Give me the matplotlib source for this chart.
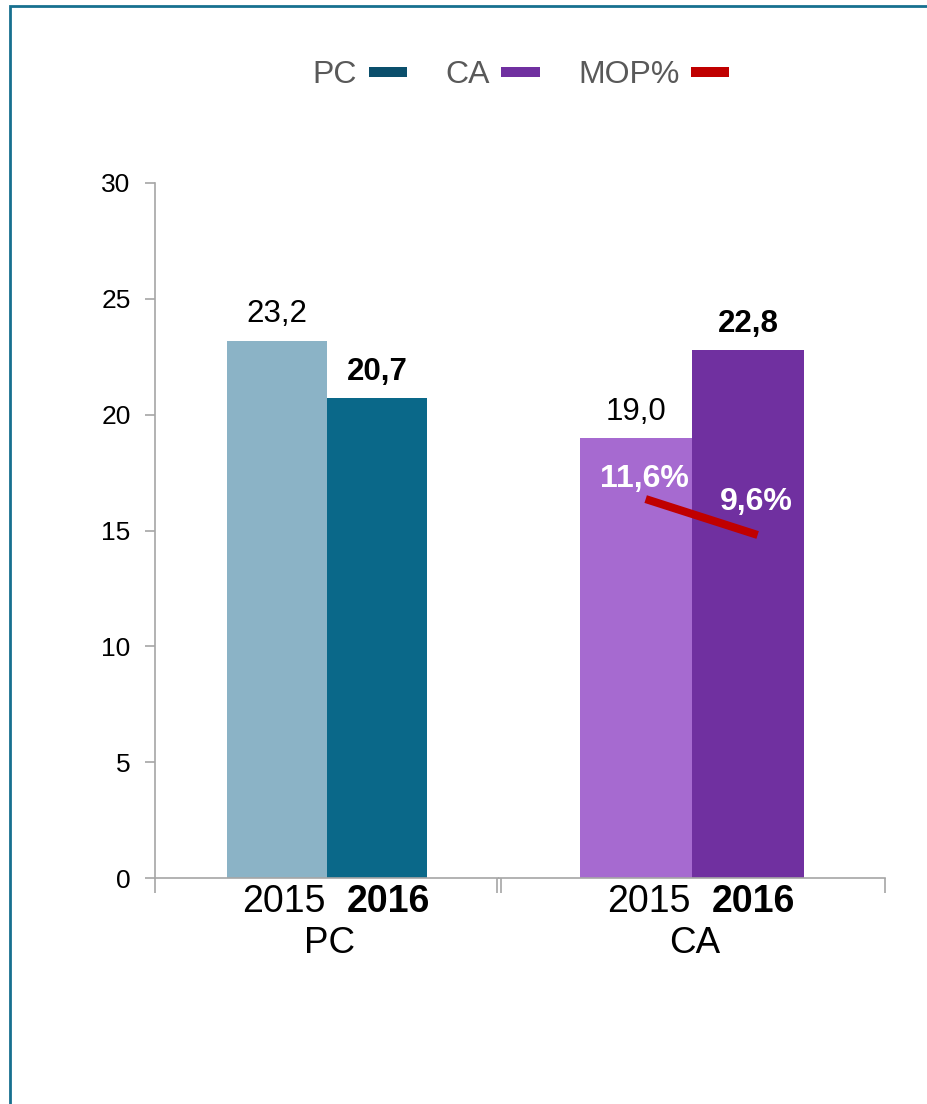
import matplotlib.pyplot as plt
from matplotlib.lines import Line2D
from matplotlib.patches import Rectangle

plt.rcParams['font.family'] = ['Liberation Sans', 'DejaVu Sans']

# 数据
groups = ['PC', 'CA']
years = ['2015', '2016']
pc_values = [23.2, 20.7]
ca_values = [19.0, 22.8]
value_labels = {'PC': ['23,2', '20,7'], 'CA': ['19,0', '22,8']}
mop_values = [11.6, 9.6]
mop_labels = ['11,6%', '9,6%']
y_ticks = [0, 5, 10, 15, 20, 25, 30]

pc_colors = ['#8bb3c6', '#0a6889']
ca_colors = ['#a66ad0', '#7030a0']
legend_colors = {'PC': '#0b4f6c', 'CA': '#7030a0', 'MOP%': '#c00000'}
axis_color = '#a6a6a6'

W, H = 928, 1104
fig = plt.figure(figsize=(W / 100, H / 100), dpi=100)

# 外框(左边和上边)
fig.add_artist(Rectangle((10.5 / W, -0.1), 1.2, 1.1 - 5.8 / H,
                         transform=fig.transFigure, fill=False,
                         edgecolor='#17708f', linewidth=2))

bottom = 1 - 878 / H
height = 695 / H
ax1 = fig.add_axes([155 / W, bottom, 344 / W, height])
ax2 = fig.add_axes([499 / W, bottom, 386 / W, height], sharey=ax1)

bar_w = 0.29
bar_x = [-bar_w / 2, bar_w / 2]

# 两个分组之间的双刻度线
pane_ticks = {'PC': [-0.5, 0.494], 'CA': [-0.495, 0.5]}

for ax, name, vals, cols in [(ax1, 'PC', pc_values, pc_colors),
                             (ax2, 'CA', ca_values, ca_colors)]:
    ax.bar(bar_x, vals, width=bar_w, color=cols, zorder=2)
    ax.set_xlim(-0.5, 0.5)
    ax.set_ylim(0, 30)
    for s in ['top', 'right']:
        ax.spines[s].set_visible(False)
    ax.spines['bottom'].set_color(axis_color)
    ax.spines['bottom'].set_linewidth(1.2)
    ax.set_xticks(pane_ticks[name])
    ax.set_xticklabels([])
    ax.tick_params(axis='x', direction='out', length=11, width=1.2,
                   color=axis_color)
    # 数值标签
    for i, (x, v) in enumerate(zip(bar_x, vals)):
        ax.annotate(value_labels[name][i], (x, v), xytext=(0, 13),
                    textcoords='offset points', ha='center', va='baseline',
                    fontsize=22.5, fontweight='bold' if i == 1 else 'normal')
    # 年份标签
    ax.annotate(years[0], (0, 0), xycoords=('data', 'axes fraction'),
                xytext=(-1, -24.5), textcoords='offset points',
                ha='right', va='baseline', fontsize=27)
    ax.annotate(years[1], (0, 0), xycoords=('data', 'axes fraction'),
                xytext=(14.5, -24.5), textcoords='offset points',
                ha='left', va='baseline', fontsize=27, fontweight='bold')
    ax.annotate(name, (0.5, 0), xycoords='axes fraction',
                xytext=(2, -54), textcoords='offset points',
                ha='center', va='baseline', fontsize=26.5)

# MOP% 折线(次坐标轴)
ax3 = ax2.twinx()
ax3.set_ylim(-9.5, 29.2)
ax3.axis('off')
mop_x = [x + 0.025 for x in bar_x]
ax3.plot(mop_x, mop_values, color='#c00000', lw=5.8,
         solid_capstyle='butt', zorder=3)
ax3.annotate(mop_labels[0], (mop_x[0], mop_values[0]), xytext=(-1, 9),
             textcoords='offset points', ha='center', va='baseline',
             fontsize=23, fontweight='bold', color='white')
ax3.annotate(mop_labels[1], (mop_x[1], mop_values[1]), xytext=(-1, 18),
             textcoords='offset points', ha='center', va='baseline',
             fontsize=23, fontweight='bold', color='white')

ax1.set_yticks(y_ticks)
ax1.spines['left'].set_color(axis_color)
ax1.spines['left'].set_linewidth(1.2)
ax1.tick_params(axis='y', direction='out', length=7.5, width=1.2,
                color=axis_color, labelsize=19, pad=10)
ax2.spines['left'].set_visible(False)
ax2.tick_params(axis='y', left=False, right=False, labelleft=False)

# 图例
handles = [Line2D([], [], color=c, lw=7.2, solid_capstyle='butt')
           for c in legend_colors.values()]
fig.legend(handles, list(legend_colors.keys()), loc='center',
           bbox_to_anchor=(521 / W, 1 - 75 / H), ncol=3, frameon=False,
           markerfirst=False, fontsize=23, labelcolor='#595959',
           handlelength=1.2, handletextpad=0.36, columnspacing=1.2)

fig.savefig('out.png', dpi=100, facecolor='white')
